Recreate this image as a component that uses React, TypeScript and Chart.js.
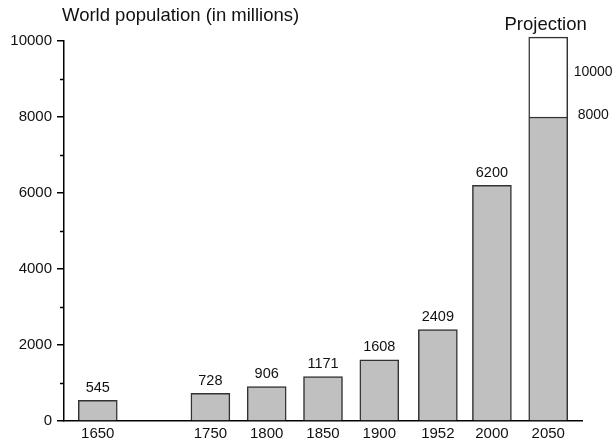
import React, { useEffect, useRef } from 'react';
import { Chart, registerables } from 'chart.js';

Chart.register(...registerables);

const years = [1650, 1750, 1800, 1850, 1900, 1952, 2000, 2050];
const population = [545, 728, 906, 1171, 1608, 2409, 6200, 8000];
const projectionYear = 2050;
const projectionRange = [8000, 10100];
const projectionLabels = ['10000', '8000'];
const yMajorTicks = [0, 2000, 4000, 6000, 8000, 10000];
const yMinorTicks = [1000, 3000, 5000, 7000, 9000];
const titleText = 'World population (in millions)';
const projectionTitle = 'Projection';

const FONT = '"Liberation Sans", Arial, Helvetica, sans-serif';

const overlayPlugin = {
  id: 'overlay',
  afterDraw(chart: any) {
    const ctx = chart.ctx;
    const y = chart.scales.y;
    const left = chart.chartArea.left;
    ctx.save();
    // minor ticks
    ctx.strokeStyle = '#000';
    ctx.lineWidth = 1.5;
    yMinorTicks.forEach((v) => {
      const py = Math.round(y.getPixelForValue(v)) + 0.5;
      ctx.beginPath();
      ctx.moveTo(left - 4, py);
      ctx.lineTo(left, py);
      ctx.stroke();
    });
    // value labels
    ctx.fillStyle = '#111';
    ctx.font = `14.5px ${FONT}`;
    ctx.textAlign = 'center';
    ctx.textBaseline = 'middle';
    const meta0 = chart.getDatasetMeta(0);
    for (let i = 0; i < population.length - 1; i++) {
      const bar: any = meta0.data[i];
      ctx.fillText(String(population[i]), bar.x, bar.y - 12.5);
    }
    // projection labels
    const meta1 = chart.getDatasetMeta(1);
    const pb: any = meta1.data[0];
    const right = pb.x + pb.width / 2;
    ctx.font = `14px ${FONT}`;
    ctx.textAlign = 'left';
    ctx.fillText(projectionLabels[0], right + 6, pb.y + 35);
    const lastBar: any = meta0.data[population.length - 1];
    ctx.fillText(projectionLabels[1], right + 10, lastBar.y - 1.5);
    // titles
    ctx.font = `18.5px ${FONT}`;
    ctx.textBaseline = 'alphabetic';
    ctx.fillText(titleText, 62, 20.5);
    ctx.fillText(projectionTitle, 504.5, 30);
    ctx.restore();
  },
};

export default function App() {
  const ref = useRef<HTMLCanvasElement>(null);
  useEffect(() => {
    document.body.style.margin = '0';
    const chart = new Chart(ref.current as HTMLCanvasElement, {
      type: 'bar',
      data: {
        datasets: [
          {
            label: 'Population',
            data: years.map((x, i) => ({ x, y: population[i] })),
            backgroundColor: '#c0c0c0',
            borderColor: '#333',
            borderWidth: 1.5,
            barThickness: 39,
            grouped: false,
          } as any,
          {
            label: 'Projection',
            data: [{ x: projectionYear, y: projectionRange }],
            backgroundColor: '#ffffff',
            borderColor: '#333',
            borderWidth: 1.5,
            borderSkipped: 'bottom',
            barThickness: 39,
            grouped: false,
            clip: false,
          } as any,
        ],
      },
      options: {
        animation: false,
        responsive: false,
        devicePixelRatio: 1,
        layout: { padding: { top: 41, right: 34, left: 0, bottom: 0 } },
        plugins: {
          legend: { display: false },
          tooltip: { enabled: false },
          title: { display: false },
        },
        scales: {
          x: {
            type: 'linear',
            min: 1620,
            max: 2080,
            offset: false,
            grid: { display: false, drawTicks: false, offset: false },
            border: { display: true, color: '#000', width: 1.5 },
            afterBuildTicks: (scale: any) => {
              scale.ticks = years.map((v) => ({ value: v }));
            },
            afterFit: (scale: any) => {
              scale.height = 23;
            },
            ticks: {
              autoSkip: false,
              maxRotation: 0,
              padding: 4,
              color: '#111',
              font: { family: FONT, size: 15 },
              callback: (v: any) => String(v),
            },
          },
          y: {
            type: 'linear',
            min: 0,
            max: 10000,
            afterBuildTicks: (scale: any) => {
              scale.ticks = yMajorTicks.map((v) => ({ value: v }));
            },
            afterFit: (scale: any) => {
              scale.width = 64;
            },
            grid: {
              display: true,
              drawOnChartArea: false,
              drawTicks: true,
              tickLength: 7,
              color: '#000',
              lineWidth: 1.5,
            },
            border: { display: true, color: '#000', width: 1.5 },
            ticks: {
              padding: 5,
              color: '#111',
              font: { family: FONT, size: 15 },
              callback: (v: any) => String(v),
            },
          },
        },
      },
      plugins: [overlayPlugin],
    } as any);
    return () => chart.destroy();
  }, []);
  return <canvas ref={ref} width={616} height={444} style={{ display: 'block', width: 616, height: 444 }} />;
}
